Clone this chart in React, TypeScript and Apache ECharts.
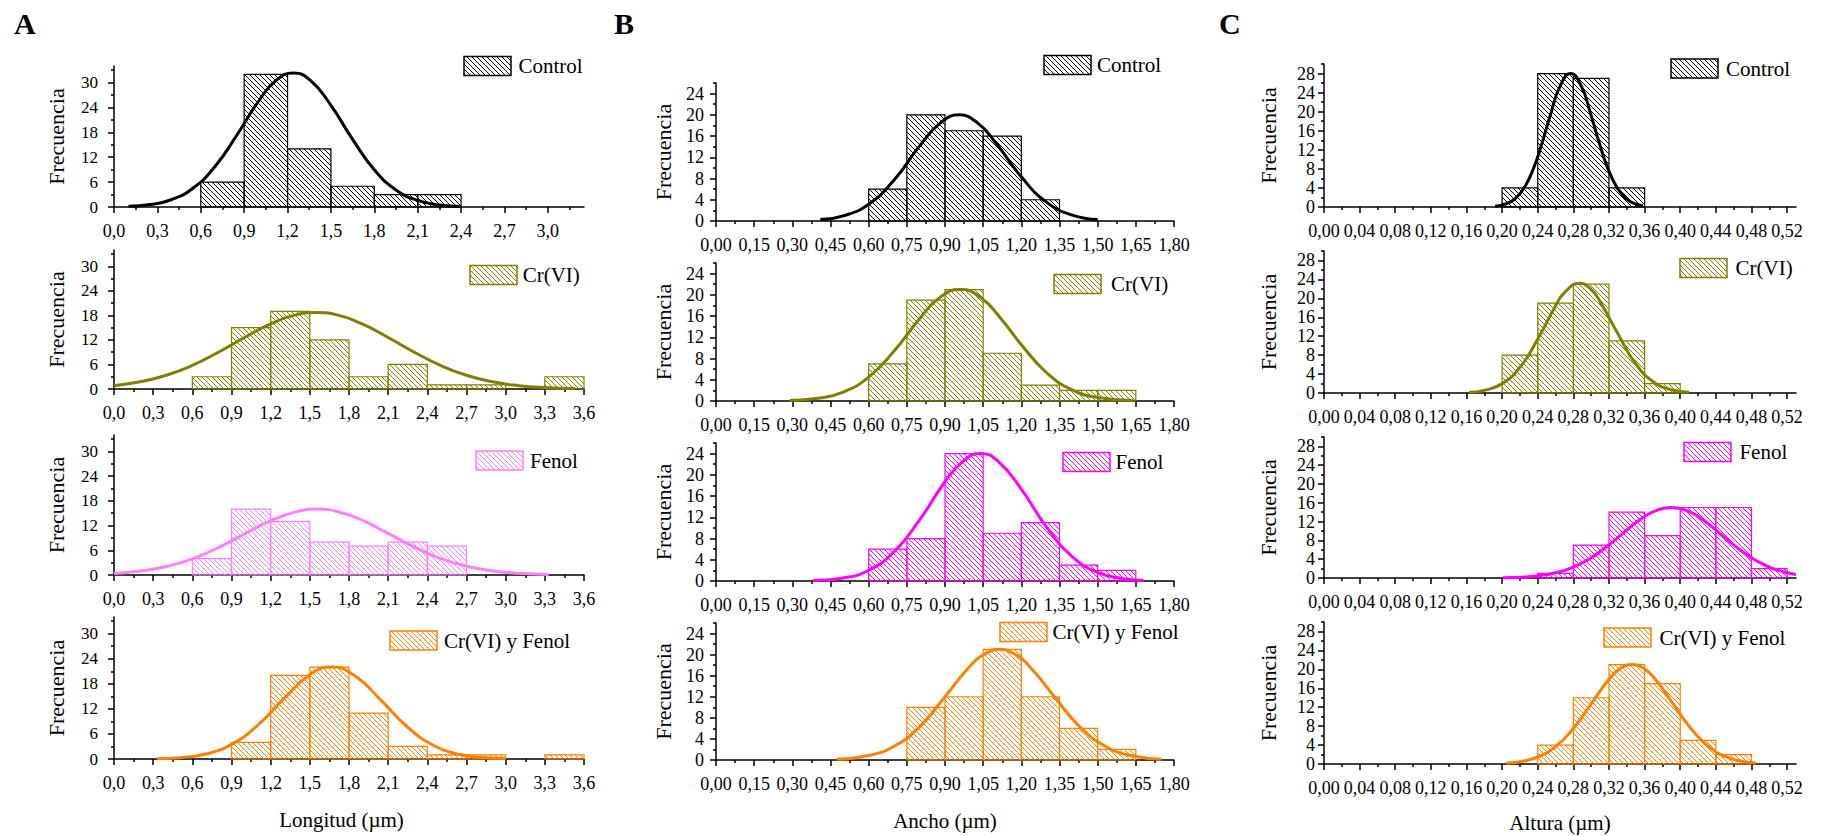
import React, { useEffect, useRef } from 'react';
import * as echarts from 'echarts';

const FONT = 'Liberation Serif, Times New Roman, serif';

const groupNames = ['Control', 'Cr(VI)', 'Fenol', 'Cr(VI) y Fenol'];

// ---- tick values ----
const lengthTicksA1 = [0, 0.3, 0.6, 0.9, 1.2, 1.5, 1.8, 2.1, 2.4, 2.7, 3.0];
const lengthTicks = [0, 0.3, 0.6, 0.9, 1.2, 1.5, 1.8, 2.1, 2.4, 2.7, 3.0, 3.3, 3.6];
const lengthMinorA1 = [0.15, 0.45, 0.75, 1.05, 1.35, 1.65, 1.95, 2.25, 2.55, 2.85, 3.15];
const lengthMinor = [0.15, 0.45, 0.75, 1.05, 1.35, 1.65, 1.95, 2.25, 2.55, 2.85, 3.15, 3.45];
const widthTicks = [0, 0.15, 0.3, 0.45, 0.6, 0.75, 0.9, 1.05, 1.2, 1.35, 1.5, 1.65, 1.8];
const widthMinor = [0.075, 0.225, 0.375, 0.525, 0.675, 0.825, 0.975, 1.125, 1.275, 1.425, 1.575, 1.725];
const heightTicks = [0, 0.04, 0.08, 0.12, 0.16, 0.2, 0.24, 0.28, 0.32, 0.36, 0.4, 0.44, 0.48, 0.52];
const heightMinor = [0.02, 0.06, 0.1, 0.14, 0.18, 0.22, 0.26, 0.3, 0.34, 0.38, 0.42, 0.46, 0.5];
const freqTicksA = [0, 6, 12, 18, 24, 30];
const freqMinorA = [3, 9, 15, 21, 27, 33];
const freqTicksB = [0, 4, 8, 12, 16, 20, 24];
const freqMinorB = [2, 6, 10, 14, 18, 22, 26];
const freqTicksC = [0, 4, 8, 12, 16, 20, 24, 28];
const freqMinorC = [2, 6, 10, 14, 18, 22, 26, 30];

// ---- A: Longitud ----
const lengthEdges = [0.6, 0.9, 1.2, 1.5, 1.8, 2.1, 2.4, 2.7, 3.0, 3.3, 3.6];
const lengthControl = [6, 32, 14, 5, 3, 3, 0, 0, 0, 0];
const lengthCr = [3, 15, 19, 12, 3, 6, 1, 1, 0, 3];
const lengthFenol = [4, 16, 13, 8, 7, 8, 7, 0, 0, 0];
const lengthMix = [0, 4, 20, 22, 11, 3, 1, 1, 0, 1];

const lengthControlCurve = [[0.1, 0.16], [0.25, 0.59], [0.4, 1.81], [0.55, 4.63], [0.7, 9.83], [0.85, 17.36], [1.0, 25.5], [1.12, 30.5], [1.24, 32.3], [1.36, 30.5], [1.5, 24.5], [1.65, 16.3], [1.8, 8.98], [1.95, 4.12], [2.1, 1.58], [2.25, 0.5], [2.4, 0.13]];
const lengthCrCurve = [[0, 0.82], [0.2, 1.75], [0.4, 3.35], [0.6, 5.78], [0.8, 9.0], [1.0, 12.6], [1.2, 15.9], [1.4, 18.2], [1.55, 18.7], [1.7, 18.2], [1.9, 15.9], [2.1, 12.6], [2.3, 9.0], [2.5, 5.78], [2.7, 3.35], [2.9, 1.75], [3.1, 0.82], [3.3, 0.35], [3.53, 0.11]];
const lengthFenolCurve = [[0, 0.39], [0.2, 0.95], [0.4, 2.05], [0.6, 3.93], [0.8, 6.66], [1.0, 9.96], [1.2, 13.2], [1.4, 15.4], [1.555, 16.0], [1.7, 15.5], [1.9, 13.3], [2.1, 10.1], [2.3, 6.81], [2.5, 4.05], [2.7, 2.13], [2.9, 0.99], [3.1, 0.41], [3.33, 0.13]];
const lengthMixCurve = [[0.33, 0.08], [0.5, 0.31], [0.7, 1.18], [0.9, 3.5], [1.1, 8.06], [1.3, 14.4], [1.5, 20.2], [1.667, 22], [1.85, 19.8], [2.05, 13.9], [2.25, 7.6], [2.45, 3.24], [2.65, 1.07], [2.85, 0.28], [3.0, 0.09]];

// ---- B: Ancho ----
const widthEdges = [0.6, 0.75, 0.9, 1.05, 1.2, 1.35, 1.5, 1.65];
const widthControl = [6, 20, 17, 16, 4, 0, 0];
const widthCr = [7, 19, 21, 9, 3, 2, 2];
const widthFenol = [6, 8, 24, 9, 11, 3, 2];
const widthMix = [0, 10, 12, 21, 12, 6, 2];

const widthControlCurve = [[0.41, 0.26], [0.5, 0.97], [0.6, 3.17], [0.7, 7.73], [0.8, 14.1], [0.88, 18.4], [0.955, 20], [1.03, 18.4], [1.1, 14.7], [1.2, 8.32], [1.3, 3.51], [1.4, 1.11], [1.5, 0.26]];
const widthCrCurve = [[0.29, 0.1], [0.4, 0.5], [0.5, 1.69], [0.6, 4.49], [0.7, 9.4], [0.8, 15.5], [0.88, 19.5], [0.96, 21], [1.04, 19.5], [1.12, 15.5], [1.2, 10.6], [1.3, 5.31], [1.4, 2.1], [1.5, 0.65], [1.64, 0.09]];
const widthFenolCurve = [[0.38, 0.09], [0.5, 0.58], [0.6, 2.03], [0.7, 5.5], [0.8, 11.5], [0.9, 18.7], [0.97, 22.5], [1.04, 24], [1.11, 22.5], [1.2, 17.3], [1.3, 10.1], [1.4, 4.6], [1.5, 1.62], [1.6, 0.44], [1.68, 0.13]];
const widthMixCurve = [[0.475, 0.15], [0.6, 0.84], [0.7, 2.6], [0.8, 6.3], [0.9, 12.0], [1.0, 17.9], [1.06, 20.2], [1.115, 21], [1.17, 20.2], [1.23, 17.9], [1.33, 12.0], [1.43, 6.3], [1.53, 2.6], [1.63, 0.84], [1.75, 0.16]];

// ---- C: Altura ----
const heightEdges = [0.2, 0.24, 0.28, 0.32, 0.36, 0.4, 0.44, 0.48, 0.52];
const heightControl = [4, 28, 27, 4, 0, 0, 0, 0];
const heightCr = [8, 19, 23, 11, 2, 0, 0, 0];
const heightFenol = [0, 1, 7, 14, 9, 15, 15, 2];
const heightMix = [0, 4, 14, 21, 17, 5, 2, 0];

const heightControlCurve = [[0.192, 0.16], [0.205, 0.7], [0.215, 1.81], [0.225, 4.09], [0.235, 7.97], [0.245, 13.5], [0.255, 19.8], [0.265, 25.3], [0.277, 28], [0.289, 25.3], [0.299, 19.8], [0.309, 13.5], [0.319, 7.97], [0.329, 4.09], [0.339, 1.81], [0.349, 0.7], [0.358, 0.26]];
const heightCrCurve = [[0.163, 0.15], [0.18, 0.56], [0.2, 1.98], [0.22, 5.42], [0.24, 11.4], [0.26, 18.4], [0.27, 21.2], [0.2865, 23.2], [0.3, 21.9], [0.31, 19.3], [0.33, 12.5], [0.35, 6.16], [0.37, 2.34], [0.39, 0.69], [0.41, 0.15]];
const heightFenolCurve = [[0.201, 0.06], [0.22, 0.18], [0.24, 0.47], [0.26, 1.11], [0.28, 2.33], [0.3, 4.31], [0.32, 7.06], [0.34, 10.2], [0.36, 13.1], [0.375, 14.5], [0.39, 15], [0.405, 14.5], [0.42, 13.1], [0.44, 10.2], [0.46, 7.06], [0.48, 4.31], [0.5, 2.33], [0.51, 1.63], [0.52, 1.11], [0.53, 0.74]];
const heightMixCurve = [[0.205, 0.19], [0.22, 0.49], [0.24, 1.48], [0.26, 3.66], [0.28, 7.5], [0.3, 12.7], [0.32, 17.9], [0.333, 20.2], [0.346, 21], [0.359, 20.2], [0.372, 17.9], [0.392, 12.7], [0.412, 7.5], [0.432, 3.66], [0.452, 1.48], [0.47, 0.56], [0.485, 0.22]];

// ---- layout / style per column ----
const columns = [
  {
    letter: 'A', letterX: 14,
    left: 114, width: 470, tops: [66, 250, 435, 617], heights: [141, 139, 140, 142],
    xMaxes: [3.25, 3.6, 3.6, 3.6], xTicks: [lengthTicksA1, lengthTicks, lengthTicks, lengthTicks],
    xMinor: [lengthMinorA1, lengthMinor, lengthMinor, lengthMinor], xInterval: 0.3,
    yMax: 34, yTicks: freqTicksA, yMinor: freqMinorA, yInterval: 6, dec: 1,
    edges: lengthEdges, counts: [lengthControl, lengthCr, lengthFenol, lengthMix],
    curves: [lengthControlCurve, lengthCrCurve, lengthFenolCurve, lengthMixCurve],
    colors: ['#000000', '#808000', '#FF80FF', '#FF8000'],
    xName: 'Longitud (µm)', xNameGap: 50, xNamePad: [0, 15, 0, 0],
    yNameGap: 47, yLabelMargin: 16, yLabelSize: 17, xLabelMargin: 15, xLabelSize: 18,
    legendRectX: [464, 470, 476, 390], legendTextX: [518.5, 522.7, 530, 444], legendY: [66, 275, 460.5, 640.5],
  },
  {
    letter: 'B', letterX: 614,
    left: 716, width: 458, tops: [83, 263, 443, 623], heights: [138, 138, 138, 137],
    xMaxes: [1.8, 1.8, 1.8, 1.8], xTicks: [widthTicks, widthTicks, widthTicks, widthTicks],
    xMinor: [widthMinor, widthMinor, widthMinor, widthMinor], xInterval: 0.15,
    yMax: 26, yTicks: freqTicksB, yMinor: freqMinorB, yInterval: 4, dec: 2,
    edges: widthEdges, counts: [widthControl, widthCr, widthFenol, widthMix],
    curves: [widthControlCurve, widthCrCurve, widthFenolCurve, widthMixCurve],
    colors: ['#000000', '#808000', '#FF00FF', '#FF8000'],
    xName: 'Ancho (µm)', xNameGap: 50, xNamePad: [0, 0, 0, 0],
    yNameGap: 42, yLabelMargin: 12, yLabelSize: 18, xLabelMargin: 15, xLabelSize: 18,
    legendRectX: [1044, 1054, 1063, 1000], legendTextX: [1097, 1111, 1115.5, 1052.5], legendY: [65, 284, 462, 632],
  },
  {
    letter: 'C', letterX: 1219,
    left: 1324, width: 472, tops: [64, 251, 437, 622], heights: [143, 142, 141, 142],
    xMaxes: [0.53, 0.53, 0.53, 0.53], xTicks: [heightTicks, heightTicks, heightTicks, heightTicks],
    xMinor: [heightMinor, heightMinor, heightMinor, heightMinor], xInterval: 0.04,
    yMax: 30, yTicks: freqTicksC, yMinor: freqMinorC, yInterval: 4, dec: 2,
    edges: heightEdges, counts: [heightControl, heightCr, heightFenol, heightMix],
    curves: [heightControlCurve, heightCrCurve, heightFenolCurve, heightMixCurve],
    colors: ['#000000', '#808000', '#FF00FF', '#FF8000'],
    xName: 'Altura (µm)', xNameGap: 48, xNamePad: [0, 0, 0, 0],
    yNameGap: 45, yLabelMargin: 9, yLabelSize: 18, xLabelMargin: 15, xLabelSize: 18,
    legendRectX: [1671, 1680, 1684, 1604], legendTextX: [1726, 1735.5, 1739.4, 1659.4], legendY: [68.5, 268, 452, 637.5],
  },
];

const patternCache: Record<string, any> = {};
function hatch(color: string) {
  if (patternCache[color]) return patternCache[color];
  const size = 5;
  const c = document.createElement('canvas');
  c.width = size;
  c.height = size;
  const ctx = c.getContext('2d')!;
  ctx.strokeStyle = color;
  ctx.lineWidth = 1;
  ctx.beginPath();
  ctx.moveTo(-1, -1);
  ctx.lineTo(size + 1, size + 1);
  ctx.moveTo(-1, size - 1);
  ctx.lineTo(1, size + 1);
  ctx.moveTo(size - 1, -1);
  ctx.lineTo(size + 1, 1);
  ctx.stroke();
  const p = { image: c.toDataURL(), repeat: 'repeat', imageWidth: size, imageHeight: size };
  patternCache[color] = p;
  return p;
}

function buildOption() {
  const grid: any[] = [];
  const xAxis: any[] = [];
  const yAxis: any[] = [];
  const series: any[] = [];
  const graphic: any[] = [];
  const axisLineStyle = { color: '#000', width: 1.5 };

  columns.forEach((col, ci) => {
    graphic.push({
      type: 'text', x: col.letterX, y: 23,
      style: { text: col.letter, fontFamily: FONT, fontSize: 30, fontWeight: 'bold', fill: '#000', align: 'left', verticalAlign: 'middle' },
    });
    for (let r = 0; r < 4; r++) {
      const g = ci * 4 + r;
      const color = col.colors[r];
      const pattern = hatch(color);
      grid.push({ left: col.left, top: col.tops[r], width: col.width, height: col.heights[r], containLabel: false, outerBoundsMode: 'none' });
      const dec = col.dec;
      xAxis.push({
        type: 'value', gridIndex: g, position: 'bottom', min: 0, max: col.xMaxes[r], interval: col.xInterval,
        axisLine: { show: true, onZero: false, lineStyle: axisLineStyle },
        axisTick: { show: true, length: 6, inside: false, customValues: col.xTicks[r], lineStyle: axisLineStyle },
        minorTick: { show: false },
        splitLine: { show: false },
        axisLabel: {
          show: true, customValues: col.xTicks[r], interval: 0, hideOverlap: false,
          formatter: (v: number) => v.toFixed(dec).replace('.', ','),
          margin: col.xLabelMargin, fontFamily: FONT, fontSize: col.xLabelSize, color: '#000',
        },
        name: r === 3 ? col.xName : '', nameLocation: 'middle', nameGap: col.xNameGap, nameMoveOverlap: false,
        nameTextStyle: { fontFamily: FONT, fontSize: 21, color: '#000', padding: col.xNamePad },
      });
      xAxis.push({
        type: 'value', gridIndex: g, position: 'bottom', min: 0, max: col.xMaxes[r], interval: col.xInterval,
        axisLine: { show: false, onZero: false },
        axisTick: { show: true, length: 3, inside: false, customValues: col.xMinor[r], lineStyle: axisLineStyle },
        axisLabel: { show: false },
        splitLine: { show: false },
      });
      yAxis.push({
        type: 'value', gridIndex: g, position: 'left', min: 0, max: col.yMax, interval: col.yInterval,
        axisLine: { show: true, onZero: false, lineStyle: axisLineStyle },
        axisTick: { show: true, length: 6, inside: false, customValues: col.yTicks, lineStyle: axisLineStyle },
        minorTick: { show: false },
        splitLine: { show: false },
        axisLabel: {
          show: true, customValues: col.yTicks, hideOverlap: false,
          formatter: (v: number) => String(v),
          margin: col.yLabelMargin, fontFamily: FONT, fontSize: col.yLabelSize, color: '#000',
        },
        name: 'Frecuencia', nameLocation: 'middle', nameRotate: 90, nameGap: col.yNameGap, nameMoveOverlap: false,
        nameTextStyle: { fontFamily: FONT, fontSize: 22, color: '#000' },
      });
      yAxis.push({
        type: 'value', gridIndex: g, position: 'left', min: 0, max: col.yMax, interval: col.yInterval,
        axisLine: { show: false, onZero: false },
        axisTick: { show: true, length: 3, inside: false, customValues: col.yMinor, lineStyle: axisLineStyle },
        axisLabel: { show: false },
        splitLine: { show: false },
      });

      const counts = col.counts[r];
      const barData: number[][] = [];
      counts.forEach((n, i) => {
        if (n > 0) barData.push([col.edges[i], col.edges[i + 1], n]);
      });
      series.push({
        type: 'custom', name: groupNames[r], xAxisIndex: 2 * g, yAxisIndex: 2 * g, silent: true, z: 3,
        data: barData, encode: { x: [0, 1], y: 2 },
        renderItem: (params: any, api: any) => {
          const s = api.coord([api.value(0), api.value(2)]);
          const e = api.coord([api.value(1), 0]);
          return {
            type: 'rect',
            shape: { x: s[0], y: s[1], width: e[0] - s[0], height: e[1] - s[1] },
            style: { fill: pattern, stroke: color, lineWidth: 1.2 },
          };
        },
      });
      series.push({
        type: 'line', name: groupNames[r] + ' ajuste', xAxisIndex: 2 * g, yAxisIndex: 2 * g, silent: true, z: 5,
        data: col.curves[r], smooth: true, showSymbol: false, symbol: 'none',
        lineStyle: { color, width: 3 }, itemStyle: { color },
      });

      const ly = col.legendY[r];
      graphic.push({
        type: 'rect', shape: { x: col.legendRectX[r], y: ly - 9.5, width: 47, height: 19 },
        style: { fill: pattern, stroke: color, lineWidth: 1.5 },
      });
      graphic.push({
        type: 'text', x: col.legendTextX[r], y: ly,
        style: { text: groupNames[r], fontFamily: FONT, fontSize: 21, fill: '#000', align: 'left', verticalAlign: 'middle' },
      });
    }
  });

  return {
    animation: false,
    backgroundColor: '#fff',
    textStyle: { fontFamily: FONT },
    grid, xAxis, yAxis, series, graphic,
  };
}

export default function App() {
  const ref = useRef<HTMLDivElement>(null);
  useEffect(() => {
    if (!ref.current) return;
    const chart = echarts.init(ref.current, undefined, { renderer: 'svg' });
    chart.setOption(buildOption() as any);
    return () => chart.dispose();
  }, []);
  return (
    <div
      ref={ref}
      style={{ position: 'fixed', left: 0, top: 0, width: 1821, height: 836, background: '#fff' }}
    />
  );
}
